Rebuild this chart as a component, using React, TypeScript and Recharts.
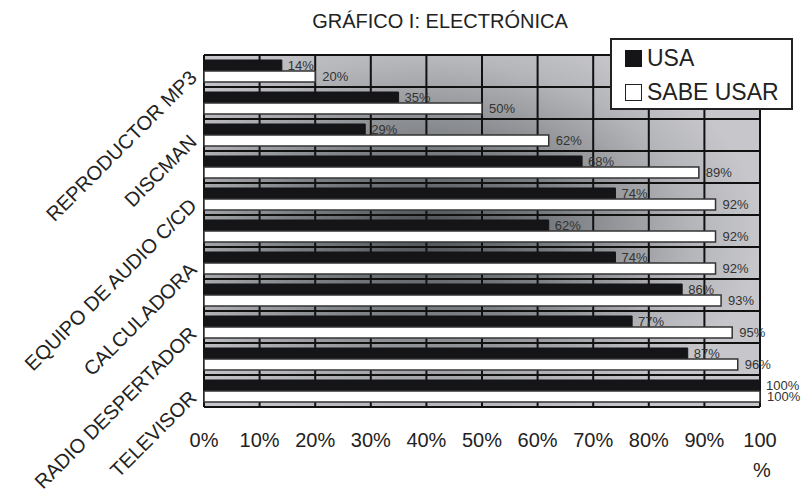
import { BarChart, Bar, XAxis, YAxis, CartesianGrid, LabelList } from 'recharts';

const products = [
  'REPRODUCTOR MP3', '', 'DISCMAN', '', 'EQUIPO DE AUDIO C/CD', '',
  'CALCULADORA', '', 'RADIO DESPERTADOR', '', 'TELEVISOR',
];
const usa = [14, 35, 29, 68, 74, 62, 74, 86, 77, 87, 100];
const sabeUsar = [20, 50, 62, 89, 92, 92, 92, 93, 95, 96, 100];
const xTicks = [0, 10, 20, 30, 40, 50, 60, 70, 80, 90, 100];

const FONT = "'Liberation Sans', Arial, sans-serif";

const data = products.map((name, i) => ({ name, usa: usa[i], sabe: sabeUsar[i] }));

function YTick({ x, y, payload }: any) {
  const ax = x - 6;
  const ay = y + 8;
  return (
    <text x={ax} y={ay} transform={`rotate(-45 ${ax} ${ay})`} textAnchor="end"
      fontSize={20} fill="#222" fontFamily={FONT}>
      {payload.value}
    </text>
  );
}

function XTick({ x, y, payload }: any) {
  const v = payload.value;
  if (v === 100) {
    return (
      <text x={x} y={y} textAnchor="middle" fontSize={20} fill="#222" fontFamily={FONT}>
        <tspan x={x} dy={40}>100</tspan>
        <tspan x={x + 2} dy={30}>%</tspan>
      </text>
    );
  }
  return (
    <text x={x} y={y + 40} textAnchor="middle" fontSize={20} fill="#222" fontFamily={FONT}>
      {`${v}%`}
    </text>
  );
}

const pct = (v: any) => `${v}%`;

export default function App() {
  return (
    <div style={{ position: 'absolute', left: 0, top: 0, width: 804, height: 500, background: '#fff' }}>
      <svg width={0} height={0} style={{ position: 'absolute' }}>
        <defs>
          <radialGradient id="plotBg" cx="0.4" cy="0.5" r="0.6">
            <stop offset="0%" stopColor="#4e5256" />
            <stop offset="40%" stopColor="#7b7e82" />
            <stop offset="80%" stopColor="#b5b6ba" />
            <stop offset="100%" stopColor="#c7c7cb" />
          </radialGradient>
        </defs>
      </svg>
      <div style={{
        position: 'absolute', left: 0, top: 10, width: 880, textAlign: 'center',
        fontFamily: FONT, fontSize: 20, color: '#222',
      }}>
        GRÁFICO I: ELECTRÓNICA
      </div>
      <BarChart
        width={804}
        height={500}
        data={data}
        layout="vertical"
        margin={{ top: 55, right: 44, left: 54, bottom: 33 }}
        barGap={0}
        barSize={11}
      >
        <CartesianGrid
          stroke="#111"
          strokeWidth={2}
          fill="url(#plotBg)"
          fillOpacity={1}
          horizontalCoordinatesGenerator={({ offset }: any) =>
            products.map((_, i) => offset.top + (i * offset.height) / products.length)
              .concat([offset.top + offset.height])}
        />
        <XAxis type="number" domain={[0, 100]} ticks={xTicks} tick={<XTick />}
          axisLine={false} tickLine={false} tickSize={0} tickMargin={0} height={60}
          interval={0} />
        <YAxis type="category" dataKey="name" tick={<YTick />} interval={0}
          axisLine={false} tickLine={false} tickSize={0} tickMargin={0} width={150} />
        <Bar dataKey="usa" name="USA" fill="#151518" stroke="#151518" strokeWidth={1}
          isAnimationActive={false}>
          <LabelList dataKey="usa" position="right" offset={6} formatter={pct}
            fontSize={13} fill="#333" fontFamily={FONT} />
        </Bar>
        <Bar dataKey="sabe" name="SABE USAR" fill="#ffffff" stroke="#333" strokeWidth={1.5}
          isAnimationActive={false}>
          <LabelList dataKey="sabe" position="right" offset={7} formatter={pct}
            fontSize={13} fill="#333" fontFamily={FONT} />
        </Bar>
      </BarChart>
      <div style={{
        position: 'absolute', left: 610, top: 38, width: 183, height: 72,
        background: '#fff', border: '2px solid #222', boxSizing: 'border-box',
        fontFamily: FONT, fontSize: 23, color: '#222',
      }}>
        <div style={{ position: 'absolute', left: 13, top: 5, display: 'flex', alignItems: 'center' }}>
          <span style={{ display: 'inline-block', width: 17, height: 17, background: '#151518', marginRight: 5 }} />
          USA
        </div>
        <div style={{ position: 'absolute', left: 13, top: 39, display: 'flex', alignItems: 'center' }}>
          <span style={{ display: 'inline-block', width: 15, height: 15, background: '#fff', border: '1.5px solid #222', marginRight: 5 }} />
          SABE USAR
        </div>
      </div>
    </div>
  );
}
